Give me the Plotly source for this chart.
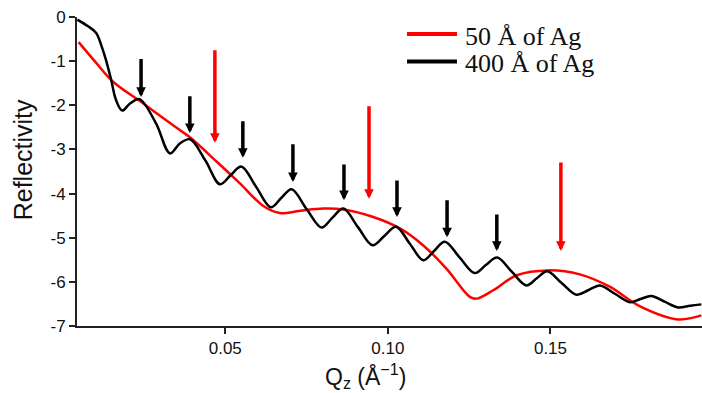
import plotly.graph_objects as go

# ---- data ----
ag400_q = [0.0045, 0.0078, 0.0103, 0.0120, 0.0133, 0.0149, 0.0164, 0.0183, 0.0207, 0.0236,
           0.0287, 0.0330, 0.0361, 0.0392, 0.0438, 0.0484, 0.0517, 0.0550, 0.0595, 0.0640,
           0.0672, 0.0704, 0.0750, 0.0796, 0.0829, 0.0863, 0.0908, 0.0953, 0.0989, 0.1025,
           0.1067, 0.1109, 0.1142, 0.1175, 0.1221, 0.1267, 0.1301, 0.1336, 0.1381, 0.1426,
           0.1458, 0.1490, 0.1535, 0.1580, 0.1616, 0.1652, 0.1698, 0.1744, 0.1777, 0.1810,
           0.1851, 0.1892, 0.1930, 0.1964]
ag400_r = [-0.06, -0.21, -0.36, -0.67, -0.97, -1.42, -1.88, -2.12, -1.96, -1.86,
           -2.41, -3.09, -2.86, -2.77, -3.24, -3.79, -3.58, -3.39, -3.85, -4.31,
           -4.10, -3.90, -4.35, -4.77, -4.55, -4.34, -4.76, -5.17, -4.96, -4.75,
           -5.13, -5.51, -5.30, -5.09, -5.45, -5.80, -5.62, -5.45, -5.77, -6.08,
           -5.92, -5.76, -6.03, -6.29, -6.19, -6.08, -6.27, -6.46, -6.39, -6.32,
           -6.45, -6.58, -6.54, -6.51]

ag50_q = [0.0049, 0.0103, 0.0154, 0.0246, 0.0348, 0.0392, 0.0474, 0.0545, 0.0617, 0.0668,
          0.0730, 0.0801, 0.0863, 0.0955, 0.1037, 0.1108, 0.1180, 0.1252, 0.1273, 0.1324,
          0.1396, 0.1493, 0.1590, 0.1682, 0.1774, 0.1892, 0.1964]
ag50_r = [-0.57, -1.04, -1.46, -1.95, -2.50, -2.73, -3.28, -3.77, -4.28, -4.44,
          -4.39, -4.34, -4.36, -4.53, -4.79, -5.17, -5.70, -6.34, -6.38, -6.19,
          -5.85, -5.74, -5.83, -6.11, -6.55, -6.85, -6.76]

# arrows: tip (q, r) and tail r
black_arrow_q = [0.0241, 0.0391, 0.0554, 0.0708, 0.0865, 0.1028, 0.1182, 0.1335]
black_arrow_tip = [-1.81, -2.63, -3.19, -3.74, -4.15, -4.53, -4.99, -5.30]
black_arrow_tail = [-0.92, -1.76, -2.33, -2.85, -3.31, -3.67, -4.12, -4.44]

red_arrow_q = [0.0468, 0.0942, 0.1532]
red_arrow_tip = [-2.85, -4.12, -5.30]
red_arrow_tail = [-0.72, -1.99, -3.26]

x_tickvals = [0.05, 0.10, 0.15]
x_ticktext = ["0.05", "0.10", "0.15"]
y_tickvals = [0, -1, -2, -3, -4, -5, -6, -7]
y_ticktext = ["0", "-1", "-2", "-3", "-4", "-5", "-6", "-7"]

legend_names = ["50 Å of Ag", "400 Å of Ag"]
RED = "#ff0000"
BLACK = "#000000"

fig = go.Figure()
fig.add_trace(go.Scatter(x=ag50_q, y=ag50_r, mode="lines", name=legend_names[0],
                         line=dict(color=RED, width=2.5, shape="spline", smoothing=1.0)))
fig.add_trace(go.Scatter(x=ag400_q, y=ag400_r, mode="lines", name=legend_names[1],
                         line=dict(color=BLACK, width=2.5, shape="spline", smoothing=1.0)))

annotations = []
for q, tip, tail in zip(black_arrow_q, black_arrow_tip, black_arrow_tail):
    annotations.append(dict(x=q, y=tip, ax=q, ay=tail, xref="x", yref="y", axref="x", ayref="y",
                            showarrow=True, arrowhead=2, arrowsize=0.55, arrowwidth=3.5,
                            arrowcolor=BLACK, text=""))
for q, tip, tail in zip(red_arrow_q, red_arrow_tip, red_arrow_tail):
    annotations.append(dict(x=q, y=tip, ax=q, ay=tail, xref="x", yref="y", axref="x", ayref="y",
                            showarrow=True, arrowhead=2, arrowsize=0.55, arrowwidth=3.5,
                            arrowcolor=RED, text=""))

# axis titles
annotations.append(dict(text="Reflectivity", xref="paper", yref="paper", x=-0.086, y=0.537,
                        textangle=-90, showarrow=False, xanchor="center", yanchor="middle",
                        font=dict(family="Liberation Sans, Arial", size=25, color="#111")))
annotations.append(dict(text="Q<sub>z</sub> (Å<sup>−1</sup>)", xref="paper", yref="paper",
                        x=0.462, y=-0.163, showarrow=False, xanchor="center", yanchor="middle",
                        font=dict(family="Liberation Sans, Arial", size=23, color="#111")))

# custom legend
legend_colors = [RED, BLACK]
legend_y = [0.945, 0.856]
shapes = []
for name, col, ly in zip(legend_names, legend_colors, legend_y):
    shapes.append(dict(type="line", xref="paper", yref="paper", x0=0.528, x1=0.608, y0=ly, y1=ly,
                       line=dict(color=col, width=4)))
    annotations.append(dict(text=name, xref="paper", yref="paper", x=0.617, y=ly - 0.007,
                            showarrow=False, xanchor="left", yanchor="middle",
                            font=dict(family="Liberation Serif, Times New Roman", size=26, color="#111")))

axis_common = dict(showline=True, linecolor="#222", linewidth=2, ticks="outside", ticklen=6,
                   tickwidth=2, tickcolor="#222", showgrid=False, zeroline=False,
                   tickfont=dict(family="Liberation Sans, Arial", size=17, color="#111"))

fig.update_layout(
    width=702, height=393,
    margin=dict(l=77, r=0, t=17, b=67),
    plot_bgcolor="white", paper_bgcolor="white",
    showlegend=False,
    xaxis=dict(range=[0.0044, 0.1966], tickvals=x_tickvals, ticktext=x_ticktext, **axis_common),
    yaxis=dict(range=[-7, 0], tickvals=y_tickvals, ticktext=y_ticktext, **axis_common),
    annotations=annotations,
    shapes=shapes,
)

fig.write_html("out.html")
